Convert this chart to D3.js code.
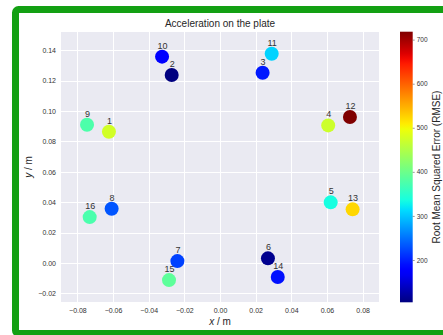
<!DOCTYPE html>
<html>
<head>
<meta charset="utf-8">
<script src="https://cdn.jsdelivr.net/npm/d3@7"></script>
<style>
  html, body { margin: 0; padding: 0; background: #ffffff; }
  svg { display: block; font-family: "Liberation Sans", Arial, sans-serif; }
</style>
</head>
<body>
<svg id="chart" width="443" height="335"></svg>
<script>
// Sensor positions on the plate and their RMSE
const sensorIds = [1, 2, 3, 4, 5, 6, 7, 8, 9, 10, 11, 12, 13, 14, 15, 16];
const xPos = [-0.0623, -0.0271, 0.0239, 0.0607, 0.0621, 0.0269, -0.0239, -0.0608,
              -0.0746, -0.0325, 0.0290, 0.0729, 0.0744, 0.0324, -0.0286, -0.0731];
const yPos = [0.0863, 0.1236, 0.1251, 0.0905, 0.0399, 0.0031, 0.0013, 0.0357,
              0.0909, 0.1357, 0.1376, 0.0960, 0.0353, -0.0092, -0.0112, 0.0302];
const rmse = [475, 104, 195, 471, 335, 112, 220, 232,
              376, 172, 308, 718, 523, 190, 388, 374];

const xTicks = [-0.08, -0.06, -0.04, -0.02, 0.00, 0.02, 0.04, 0.06, 0.08];
const yTicks = [-0.02, 0.00, 0.02, 0.04, 0.06, 0.08, 0.10, 0.12, 0.14];
const cbTicks = [200, 300, 400, 500, 600, 700];

// matplotlib "jet" colormap segments
const jetSeg = {
  r: [[0, 0], [0.35, 0], [0.66, 1], [0.89, 1], [1, 0.5]],
  g: [[0, 0], [0.125, 0], [0.375, 1], [0.64, 1], [0.91, 0], [1, 0]],
  b: [[0, 0.5], [0.11, 1], [0.34, 1], [0.65, 0], [1, 0]]
};
function seg(pts, t) {
  for (let i = 1; i < pts.length; i++) {
    if (t <= pts[i][0]) {
      const [x0, y0] = pts[i - 1], [x1, y1] = pts[i];
      return y0 + (y1 - y0) * (t - x0) / (x1 - x0);
    }
  }
  return pts[pts.length - 1][1];
}
function jet(t) {
  t = Math.max(0, Math.min(1, t));
  const c = v => Math.round(v * 255);
  return `rgb(${c(seg(jetSeg.r, t))},${c(seg(jetSeg.g, t))},${c(seg(jetSeg.b, t))})`;
}

const svg = d3.select("#chart");

// Outer green frame
svg.append("rect")
  .attr("x", 15.5).attr("y", 9.5).attr("width", 460).attr("height", 324)
  .attr("rx", 3).attr("fill", "#ffffff")
  .attr("stroke", "#13a013").attr("stroke-width", 7);

const plot = { left: 61, right: 379, top: 32, bottom: 302 };

const x = d3.scaleLinear().domain([-0.0892, 0.0892]).range([plot.left, plot.right]);
const y = d3.scaleLinear().domain([-0.0256, 0.1519]).range([plot.bottom, plot.top]);

// Plot background
svg.append("rect")
  .attr("x", plot.left).attr("y", plot.top)
  .attr("width", plot.right - plot.left).attr("height", plot.bottom - plot.top)
  .attr("fill", "#eaeaf2");

// Grid
const grid = svg.append("g").attr("stroke", "#ffffff").attr("stroke-width", 1);
grid.selectAll(".gx").data(xTicks).join("line")
  .attr("x1", d => Math.round(x(d)) + 0.5).attr("x2", d => Math.round(x(d)) + 0.5)
  .attr("y1", plot.top).attr("y2", plot.bottom);
grid.selectAll(".gy").data(yTicks).join("line")
  .attr("y1", d => Math.round(y(d)) + 0.5).attr("y2", d => Math.round(y(d)) + 0.5)
  .attr("x1", plot.left).attr("x2", plot.right);

// Axes (labels only, seaborn style)
const xAxis = svg.append("g")
  .attr("transform", `translate(0,${plot.bottom})`)
  .call(d3.axisBottom(x).tickValues(xTicks).tickFormat(d3.format(".2f")).tickSize(0).tickPadding(6));
const yAxis = svg.append("g")
  .attr("transform", `translate(${plot.left},0)`)
  .call(d3.axisLeft(y).tickValues(yTicks).tickFormat(d3.format(".2f")).tickSize(0).tickPadding(5));
[xAxis, yAxis].forEach(a => {
  a.select(".domain").remove();
  a.selectAll("text").attr("fill", "#333333").style("font-size", "7px")
    .style("font-family", "'Liberation Sans', Arial, sans-serif");
});
xAxis.selectAll("text").text(d => d3.format(".2f")(d).replace("-", "\u2212"));
yAxis.selectAll("text").text(d => d3.format(".2f")(d).replace("-", "\u2212"));

// Title and axis labels
svg.append("text")
  .attr("x", (plot.left + plot.right) / 2).attr("y", 27)
  .attr("text-anchor", "middle").attr("fill", "#262626")
  .style("font-size", "10px").text("Acceleration on the plate");

const xl = svg.append("text")
  .attr("x", (plot.left + plot.right) / 2).attr("y", 325)
  .attr("text-anchor", "middle").attr("fill", "#262626").style("font-size", "10px");
xl.append("tspan").style("font-style", "italic").text("x");
xl.append("tspan").text(" / m");

const yl = svg.append("text")
  .attr("transform", `translate(32,${(plot.top + plot.bottom) / 2}) rotate(-90)`)
  .attr("text-anchor", "middle").attr("fill", "#262626").style("font-size", "10px");
yl.append("tspan").style("font-style", "italic").text("y");
yl.append("tspan").text(" / m");

// Colour scale
const cDomain = [104, 718];
const color = v => jet((v - cDomain[0]) / (cDomain[1] - cDomain[0]));

// Points
const data = sensorIds.map((id, i) => ({ id, x: xPos[i], y: yPos[i], v: rmse[i] }));
svg.append("g").selectAll("circle").data(data).join("circle")
  .attr("cx", d => x(d.x)).attr("cy", d => y(d.y)).attr("r", 7)
  .attr("fill", d => color(d.v));

svg.append("g").selectAll("text").data(data).join("text")
  .attr("x", d => x(d.x) + 0.5).attr("y", d => y(d.y) - 8)
  .attr("text-anchor", "middle").attr("fill", "#333333")
  .style("font-size", "9px").text(d => d.id);

// Colorbar
const cb = { x: 400, w: 12.7, top: 31.7, bottom: 302.3 };
const cbScale = d3.scaleLinear().domain(cDomain).range([cb.bottom, cb.top]);
const defs = svg.append("defs");
const grad = defs.append("linearGradient").attr("id", "jetGrad")
  .attr("x1", 0).attr("y1", 1).attr("x2", 0).attr("y2", 0);
d3.range(0, 1.0001, 0.02).forEach(t => {
  grad.append("stop").attr("offset", t).attr("stop-color", jet(t));
});
svg.append("rect")
  .attr("x", cb.x).attr("y", cb.top).attr("width", cb.w).attr("height", cb.bottom - cb.top)
  .attr("fill", "url(#jetGrad)");

const cbAxis = svg.append("g")
  .attr("transform", `translate(${cb.x + cb.w},0)`)
  .call(d3.axisRight(cbScale).tickValues(cbTicks).tickSize(2).tickPadding(2));
cbAxis.select(".domain").remove();
cbAxis.selectAll("line").attr("stroke", "#555555").attr("stroke-width", 0.6);
cbAxis.selectAll("text").attr("fill", "#333333").style("font-size", "6.5px")
  .style("font-family", "'Liberation Sans', Arial, sans-serif");

svg.append("text")
  .attr("transform", `translate(440,${(cb.top + cb.bottom) / 2}) rotate(-90)`)
  .attr("text-anchor", "middle").attr("fill", "#262626")
  .style("font-size", "10px").text("Root Mean Squared Error (RMSE)");
</script>
</body>
</html>
